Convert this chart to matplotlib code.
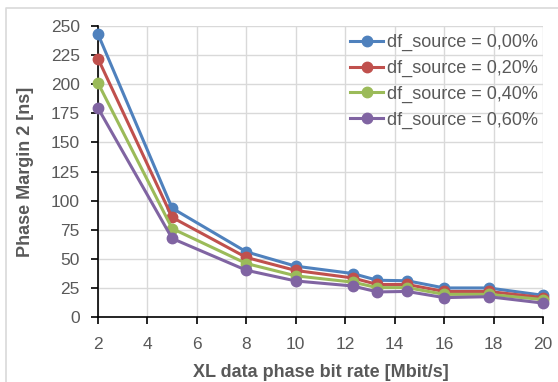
import matplotlib.pyplot as plt
from matplotlib.lines import Line2D

bit_rate = [2, 5, 8, 10, 12.3, 13.3, 14.5, 16, 17.8, 20]
margin_000 = [243, 93.5, 56, 43.7, 37.4, 31.6, 31.2, 25, 25, 18.7]
margin_020 = [222, 85.6, 51.2, 40, 33.6, 28, 28, 22, 22, 16.7]
margin_040 = [201, 76, 46, 35.4, 30, 25.3, 25.3, 19.5, 19.5, 15]
margin_060 = [179.5, 67.5, 40.2, 31, 26.7, 21.6, 22, 16.7, 17.5, 12]
labels = ["df_source = 0,00%", "df_source = 0,20%",
          "df_source = 0,40%", "df_source = 0,60%"]
colors = ["#4F81BD", "#C0504D", "#9BBB59", "#8064A2"]

plt.rcParams['font.family'] = ['Liberation Sans', 'DejaVu Sans']
grey = "#595959"


def main() -> None:
    fig = plt.figure(figsize=(5.58, 3.82), dpi=100)
    ax = fig.add_axes([0.1756, 0.170, 0.7975, 0.762])

    for ys, lab, c in zip([margin_000, margin_020, margin_040, margin_060], labels, colors):
        ax.plot(bit_rate, ys, color=c, lw=2.2, marker='o', ms=7.5, label=lab,
                clip_on=False, zorder=3)

    ax.set_xlim(2, 20)
    ax.set_ylim(0, 250)
    ax.set_xticks(range(2, 21, 2))
    ax.set_yticks(range(0, 251, 25))
    ax.grid(True, color="#D9D9D9", lw=1)
    ax.set_axisbelow(True)
    for s in ["top", "right"]:
        ax.spines[s].set_visible(False)
    for s in ["left", "bottom"]:
        ax.spines[s].set_color("black")
        ax.spines[s].set_linewidth(1.2)
    ax.tick_params(direction='out', length=5, width=1.2, color='black',
                   labelsize=12.5, labelcolor=grey)
    ax.tick_params(axis='y', pad=8)
    ax.tick_params(axis='x', pad=9)
    ax.set_xlabel("XL data phase bit rate [Mbit/s]", fontsize=13, fontweight='bold',
                  color=grey, labelpad=9)
    ax.set_ylabel("Phase Margin 2 [ns]", fontsize=13, fontweight='bold',
                  color=grey, labelpad=12)

    leg = ax.legend(loc='upper left', frameon=False, fontsize=13,
                    handlelength=1.85, handletextpad=0.2, labelspacing=0.48,
                    borderpad=0, borderaxespad=0,
                    bbox_to_anchor=(350 / 558, 1 - 34 / 382),
                    bbox_transform=fig.transFigure)
    for t in leg.get_texts():
        t.set_color(grey)

    # chart area border (only left and top edges are visible in the crop)
    x0, y0 = 5.5 / 558, 1 - 7.5 / 382
    fig.lines.append(Line2D([x0, x0, 1], [0, y0, y0], transform=fig.transFigure,
                            color="#D9D9D9", lw=1.2))
    plt.savefig("out.png", dpi=100)


if __name__ == '__main__':
    main()
